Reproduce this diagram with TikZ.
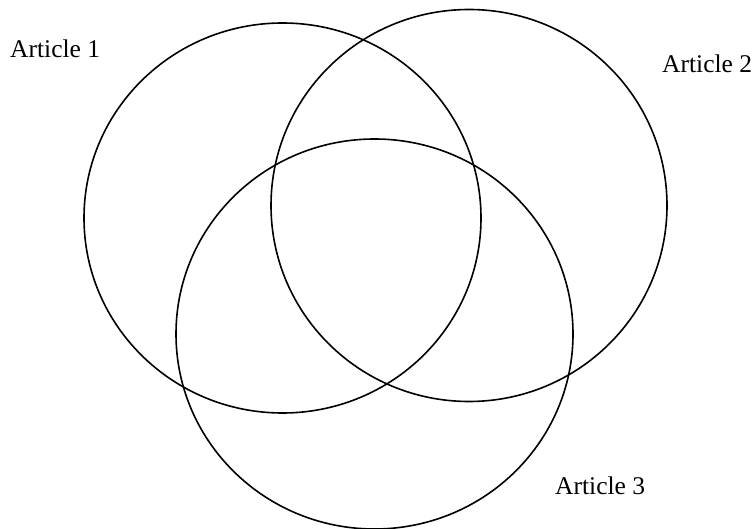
\documentclass[tikz,border=0pt]{standalone}
\usepackage{fontspec}
\setmainfont{Liberation Serif}
\begin{document}
\begin{tikzpicture}[x=1pt,y=-1pt,
  setcircle/.style={draw=black,line width=1.6pt},
  setlabel/.style={inner sep=0pt,anchor=base west,font=\fontsize{25.5}{30}\selectfont}]
\useasboundingbox (0,0) rectangle (755,529);
\draw[setcircle] (282.5,218) ellipse [x radius=198.5, y radius=195];
\draw[setcircle] (469,205.5) ellipse [x radius=198, y radius=196];
\draw[setcircle] (374.5,334) ellipse [x radius=198.5, y radius=195];
\node[setlabel] (l1) at (10,58) {Article 1};
\node[setlabel] (l2) at (662,72.7) {Article 2};
\node[setlabel] (l3) at (555,494) {Article 3};
\end{tikzpicture}
\end{document}
